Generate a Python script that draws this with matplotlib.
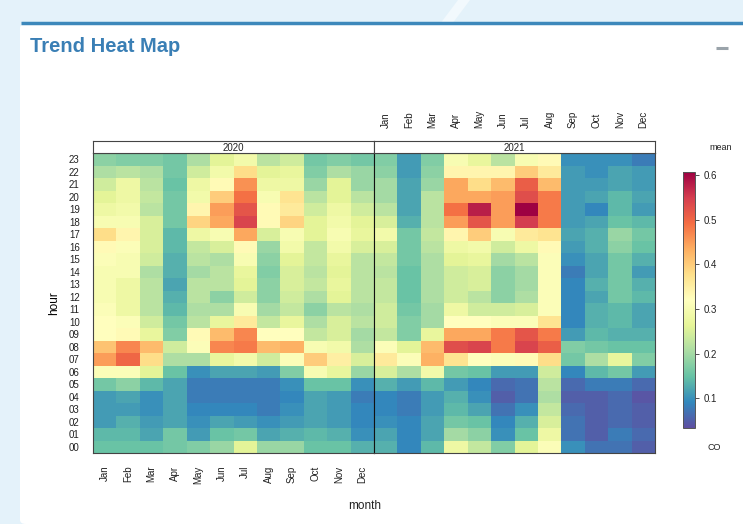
import matplotlib
matplotlib.use("Agg")
import matplotlib.pyplot as plt
from matplotlib.patches import FancyBboxPatch, Polygon
import numpy as np

plt.rcParams['font.family'] = ['Liberation Sans', 'DejaVu Sans']

months = ["Jan", "Feb", "Mar", "Apr", "May", "Jun",
          "Jul", "Aug", "Sep", "Oct", "Nov", "Dec"]
hours = ["%02d" % h for h in range(24)]
years = ["2020", "2021"]

# mean CO, rows = hour 23 down to hour 00, columns = Jan..Dec
co_2020 = [
    [0.18, 0.17, 0.17, 0.16, 0.21, 0.26, 0.29, 0.22, 0.24, 0.16, 0.17, 0.16],
    [0.21, 0.22, 0.21, 0.16, 0.24, 0.29, 0.38, 0.26, 0.27, 0.17, 0.21, 0.19],
    [0.24, 0.28, 0.22, 0.15, 0.28, 0.33, 0.46, 0.28, 0.28, 0.19, 0.26, 0.19],
    [0.26, 0.28, 0.23, 0.16, 0.29, 0.40, 0.49, 0.30, 0.37, 0.22, 0.26, 0.22],
    [0.28, 0.29, 0.22, 0.16, 0.34, 0.45, 0.52, 0.33, 0.36, 0.24, 0.28, 0.24],
    [0.30, 0.30, 0.25, 0.16, 0.39, 0.44, 0.54, 0.33, 0.39, 0.26, 0.29, 0.26],
    [0.38, 0.34, 0.25, 0.14, 0.28, 0.30, 0.44, 0.25, 0.30, 0.26, 0.30, 0.27],
    [0.33, 0.31, 0.25, 0.14, 0.23, 0.25, 0.33, 0.19, 0.29, 0.23, 0.29, 0.25],
    [0.31, 0.30, 0.24, 0.13, 0.22, 0.21, 0.30, 0.18, 0.26, 0.23, 0.27, 0.22],
    [0.30, 0.30, 0.21, 0.13, 0.20, 0.22, 0.27, 0.17, 0.25, 0.22, 0.26, 0.22],
    [0.30, 0.28, 0.22, 0.12, 0.22, 0.22, 0.26, 0.18, 0.25, 0.23, 0.27, 0.22],
    [0.30, 0.28, 0.22, 0.13, 0.22, 0.18, 0.24, 0.18, 0.24, 0.21, 0.26, 0.22],
    [0.31, 0.28, 0.22, 0.14, 0.21, 0.21, 0.30, 0.20, 0.23, 0.18, 0.22, 0.21],
    [0.32, 0.31, 0.24, 0.16, 0.22, 0.27, 0.36, 0.23, 0.27, 0.21, 0.25, 0.22],
    [0.32, 0.33, 0.27, 0.17, 0.33, 0.42, 0.47, 0.32, 0.32, 0.23, 0.25, 0.20],
    [0.41, 0.47, 0.42, 0.24, 0.31, 0.47, 0.48, 0.42, 0.43, 0.30, 0.29, 0.21],
    [0.45, 0.50, 0.38, 0.21, 0.21, 0.27, 0.29, 0.24, 0.31, 0.40, 0.35, 0.25],
    [0.31, 0.31, 0.26, 0.15, 0.10, 0.12, 0.12, 0.11, 0.17, 0.30, 0.27, 0.19],
    [0.16, 0.18, 0.14, 0.12, 0.08, 0.08, 0.08, 0.08, 0.10, 0.15, 0.15, 0.10],
    [0.11, 0.12, 0.10, 0.12, 0.08, 0.08, 0.08, 0.08, 0.09, 0.12, 0.11, 0.08],
    [0.11, 0.11, 0.10, 0.12, 0.09, 0.09, 0.09, 0.08, 0.10, 0.12, 0.11, 0.09],
    [0.11, 0.13, 0.11, 0.12, 0.10, 0.12, 0.11, 0.10, 0.11, 0.12, 0.11, 0.09],
    [0.14, 0.14, 0.12, 0.16, 0.11, 0.15, 0.16, 0.12, 0.13, 0.14, 0.13, 0.10],
    [0.15, 0.15, 0.15, 0.16, 0.17, 0.19, 0.26, 0.19, 0.19, 0.15, 0.15, 0.13],
]

co_2021 = [
    [0.17, 0.11, 0.17, 0.30, 0.27, 0.22, 0.30, 0.33, 0.10, 0.10, 0.10, 0.08],
    [0.18, 0.11, 0.18, 0.34, 0.34, 0.34, 0.40, 0.36, 0.11, 0.10, 0.12, 0.11],
    [0.20, 0.12, 0.19, 0.44, 0.38, 0.42, 0.51, 0.42, 0.11, 0.11, 0.12, 0.11],
    [0.20, 0.12, 0.22, 0.44, 0.44, 0.45, 0.53, 0.48, 0.11, 0.12, 0.14, 0.12],
    [0.22, 0.12, 0.22, 0.49, 0.58, 0.45, 0.61, 0.48, 0.11, 0.09, 0.14, 0.11],
    [0.25, 0.13, 0.22, 0.45, 0.52, 0.45, 0.55, 0.48, 0.11, 0.12, 0.15, 0.14],
    [0.29, 0.16, 0.23, 0.34, 0.40, 0.30, 0.36, 0.37, 0.12, 0.13, 0.19, 0.16],
    [0.25, 0.16, 0.22, 0.28, 0.29, 0.24, 0.28, 0.33, 0.11, 0.13, 0.18, 0.15],
    [0.23, 0.16, 0.21, 0.26, 0.27, 0.20, 0.22, 0.31, 0.10, 0.12, 0.16, 0.13],
    [0.22, 0.15, 0.21, 0.24, 0.25, 0.18, 0.20, 0.31, 0.08, 0.12, 0.16, 0.11],
    [0.23, 0.15, 0.21, 0.24, 0.25, 0.18, 0.20, 0.31, 0.09, 0.13, 0.16, 0.13],
    [0.23, 0.15, 0.21, 0.24, 0.22, 0.18, 0.21, 0.31, 0.09, 0.12, 0.16, 0.14],
    [0.24, 0.16, 0.20, 0.28, 0.24, 0.24, 0.25, 0.31, 0.09, 0.13, 0.14, 0.12],
    [0.24, 0.17, 0.20, 0.32, 0.32, 0.31, 0.31, 0.37, 0.09, 0.13, 0.14, 0.12],
    [0.23, 0.17, 0.27, 0.44, 0.44, 0.48, 0.52, 0.48, 0.11, 0.14, 0.13, 0.13],
    [0.31, 0.26, 0.42, 0.53, 0.54, 0.48, 0.54, 0.51, 0.17, 0.16, 0.15, 0.15],
    [0.36, 0.31, 0.43, 0.37, 0.32, 0.31, 0.33, 0.38, 0.16, 0.21, 0.27, 0.17],
    [0.25, 0.21, 0.29, 0.16, 0.15, 0.11, 0.11, 0.24, 0.09, 0.14, 0.16, 0.11],
    [0.13, 0.11, 0.14, 0.11, 0.09, 0.06, 0.07, 0.22, 0.06, 0.08, 0.08, 0.06],
    [0.09, 0.08, 0.11, 0.13, 0.10, 0.05, 0.07, 0.21, 0.05, 0.05, 0.06, 0.04],
    [0.09, 0.08, 0.11, 0.14, 0.12, 0.07, 0.10, 0.23, 0.06, 0.05, 0.06, 0.05],
    [0.10, 0.09, 0.12, 0.16, 0.15, 0.09, 0.13, 0.25, 0.07, 0.05, 0.06, 0.05],
    [0.12, 0.09, 0.12, 0.20, 0.18, 0.10, 0.15, 0.28, 0.07, 0.05, 0.08, 0.06],
    [0.13, 0.09, 0.14, 0.28, 0.23, 0.17, 0.26, 0.31, 0.10, 0.07, 0.07, 0.05],
]

W, H = 743, 524
fig = plt.figure(figsize=(W / 100, H / 100), dpi=100)
fig.patch.set_facecolor("#e4f2fa")


def box(x0, y0, x1, y1):
    # pixel box (top-left origin) -> figure fraction rect
    return [x0 / W, 1 - y1 / H, (x1 - x0) / W, (y1 - y0) / H]


# page decoration: light diagonal and the white card (kept behind the axes)
fig.patches.append(Polygon([(440 / W, 1 - 24 / H), (452 / W, 1 - 24 / H), (470 / W, 1.0), (458 / W, 1.0)],
                           closed=True, transform=fig.transFigure, facecolor="#f2f9fd",
                           edgecolor="none", zorder=-5))
fig.patches.append(FancyBboxPatch((20 / W, 0), (W - 20) / W + 0.01, 1 - 24 / H,
                                  boxstyle="round,pad=0,rounding_size=0.008", transform=fig.transFigure,
                                  facecolor="white", edgecolor="none", zorder=-4))
fig.add_artist(plt.Line2D([21 / W, 1], [1 - 23 / H, 1 - 23 / H], transform=fig.transFigure,
                          color="#3d88bb", lw=2.5, solid_capstyle="butt", zorder=-3))
fig.text(30 / W, 1 - 47 / H, "Trend Heat Map", fontsize=14.5, fontweight="bold", color="#3a7fb5",
         va="center", ha="left", family=["Liberation Sans Narrow", "Liberation Sans", "DejaVu Sans"])
fig.add_artist(plt.Line2D([716 / W, 728 / W], [1 - 48 / H, 1 - 48 / H], transform=fig.transFigure,
                          color="#9aa3aa", lw=2.2, solid_capstyle="butt"))

cmap = plt.get_cmap("Spectral_r")
vmin, vmax = 0.033, 0.607
x_edges = np.arange(13)
y_edges = np.arange(25)
tick_col = "#333333"
fs = 7

panels = [(93, 374), (374, 655)]
for i, (year, data) in enumerate(zip(years, [co_2020, co_2021])):
    x0, x1 = panels[i]
    ax = fig.add_axes(box(x0, 153, x1, 453))
    grid = np.flipud(np.array(data))
    mesh = ax.pcolormesh(x_edges, y_edges, grid, cmap=cmap, vmin=vmin, vmax=vmax,
                         shading="flat", antialiased=True, linewidth=0)
    ax.set_xlim(0, 12)
    ax.set_ylim(0, 24)
    for s in ax.spines.values():
        s.set_color("#444444")
        s.set_linewidth(0.8)
    if i == 1:
        ax.spines["left"].set_color("#111111")

    ax.set_xticks(np.arange(12) + 0.5)
    ax.set_xticks(np.arange(1.5, 12, 2), minor=True)
    ax.tick_params(axis="x", which="major", length=0, pad=9)
    ax.tick_params(axis="x", which="minor", length=4.5, width=0.7, color=tick_col, direction="out")
    if i == 0:
        ax.set_xticklabels(months, rotation=90, fontsize=fs, color="#222222")
    else:
        ax.set_xticklabels([])

    ax.set_yticks(np.arange(24) + 0.5)
    ax.set_yticks([4.5, 9.5, 14.5, 19.5], minor=True)
    if i == 0:
        ax.set_yticklabels(hours, fontsize=fs, color="#222222")
        ax.tick_params(axis="y", which="major", length=0, pad=9.5)
        ax.tick_params(axis="y", which="minor", length=4.5, width=0.7, color=tick_col,
                       left=True, right=False)
        ax.set_ylabel("hour", fontsize=8.5, labelpad=6)
    else:
        ax.set_yticklabels([])
        ax.tick_params(axis="y", which="major", length=0, left=False)
        ax.tick_params(axis="y", which="minor", length=4.5, width=0.7, color=tick_col,
                       left=False, right=True)

    # strip with the year
    st = fig.add_axes(box(x0, 141, x1, 153))
    st.set_xlim(0, 12)
    st.set_ylim(0, 1)
    st.set_facecolor("white")
    for s in st.spines.values():
        s.set_color("#444444")
        s.set_linewidth(0.8)
    st.text(6, 0.45, year, ha="center", va="center", fontsize=fs, color="#222222")
    st.set_yticks([])
    st.xaxis.set_ticks_position("top")
    st.set_xticks(np.arange(12) + 0.5)
    st.set_xticks(np.arange(1.5, 12, 2), minor=True)
    st.tick_params(axis="x", which="major", length=0, pad=9, top=True, bottom=False)
    st.tick_params(axis="x", which="minor", length=4.5, width=0.7, color=tick_col,
                   top=True, bottom=False)
    if i == 1:
        st.set_xticklabels(months, rotation=90, fontsize=fs, color="#222222")
    else:
        st.set_xticklabels([])

fig.text(365 / W, 1 - 506 / H, "month", ha="center", va="center", fontsize=8.5, color="#222222")

# colour key
cax = fig.add_axes(box(683, 172, 695, 428))
cb = fig.colorbar(mesh, cax=cax, ticks=[0.1, 0.2, 0.3, 0.4, 0.5, 0.6])
cb.outline.set_edgecolor("#555555")
cb.outline.set_linewidth(0.7)
cax.tick_params(length=3, width=0.6, labelsize=fs, color=tick_col, labelcolor="#222222", pad=3)
cax.set_yticklabels(["0.1", "0.2", "0.3", "0.4", "0.5", "0.6"])
fig.text(721 / W, 1 - 148 / H, "mean", ha="center", va="center", fontsize=6.5, color="#222222")
fig.text(714 / W, 1 - 447 / H, "CO", ha="center", va="center", fontsize=6.5, color="#222222")

fig.savefig("out.png", dpi=100, facecolor=fig.get_facecolor())
